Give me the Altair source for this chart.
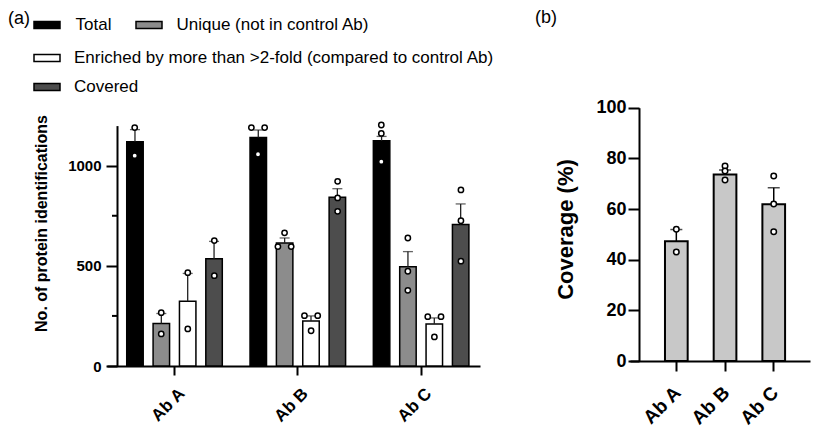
import altair as alt
import pandas as pd

FONT = "Liberation Sans"

# ---------------- data ----------------
groups = ["Ab A", "Ab B", "Ab C"]
series = ["Total", "Unique (not in control Ab)",
          "Enriched by more than >2-fold (compared to control Ab)", "Covered"]
series_colors = ["#000000", "#8c8c8c", "#ffffff", "#4d4d4d"]

mean_total = [1120, 1140, 1124]
mean_unique = [212, 614, 495]
mean_enriched = [323, 225, 210]
mean_covered = [535, 842, 706]

sem_total = [60, 38, 22]
sem_unique = [50, 25, 76]
sem_enriched = [139, 25, 30]
sem_covered = [87, 43, 103]

pts_total = [[1190, 1050], [1190, 1190, 1057], [1203, 1161, 1020]]
pts_unique = [[266, 160], [665, 596, 596], [639, 473, 378]]
pts_enriched = [[466, 185], [251, 251, 176], [246, 246, 145]]
pts_covered = [[626, 451], [922, 839, 772], [879, 725, 523]]

left_ticks = [0, 500, 1000]
left_minor_ticks = [250, 750]

cov_mean = [47.3, 73.6, 61.9]
cov_sem = [4.6, 1.8, 6.5]
cov_pts = [[52, 43], [77, 75, 71.5], [73, 62, 51]]
right_ticks = [0, 20, 40, 60, 80, 100]

panel_labels = ["(a)", "(b)"]


def spread(values):
    """side-by-side placement for replicate points with identical values"""
    out = []
    for i, v in enumerate(values):
        same = [j for j, w in enumerate(values) if w == v]
        if len(same) > 1:
            out.append("L" if same.index(i) == 0 else "R")
        else:
            out.append("C")
    return out


# ---------------- tables ----------------
means = [mean_total, mean_unique, mean_enriched, mean_covered]
sems = [sem_total, sem_unique, sem_enriched, sem_covered]
pts = [pts_total, pts_unique, pts_enriched, pts_covered]

bar_rows, pt_rows = [], []
for k, (s, m_list, e_list, p_list) in enumerate(zip(series, means, sems, pts)):
    for g, m, e, p in zip(groups, m_list, e_list, p_list):
        bar_rows.append({"group": g, "series": s, "mean": m, "hi": m + e})
        for v, j in zip(p, spread(p)):
            pt_rows.append({"group": g, "series": s, "value": v, "slot": f"{k}{j}"})
df_bars = pd.DataFrame(bar_rows)
df_pts = pd.DataFrame(pt_rows)
df_minor = pd.DataFrame({"v": left_minor_ticks})

slots = []
for k in range(len(series)):
    slots += [f"{k}L", f"{k}C", f"{k}R"]
    if k < len(series) - 1:
        slots.append(f"{k}D")

df_cov = pd.DataFrame({"group": groups, "mean": cov_mean,
                       "hi": [m + e for m, e in zip(cov_mean, cov_sem)]})
df_cov_pts = pd.DataFrame([{"group": g, "value": v}
                           for g, vs in zip(groups, cov_pts) for v in vs])

color_scale = alt.Scale(domain=series, range=series_colors)

# ---------------- left panel (cell coords = page - 8) ----------------
xl_scale = alt.Scale(domain=groups, range=[99, 472], paddingInner=0.225,
                     paddingOuter=0.125, align=0.64)
yl_scale = alt.Scale(domain=[0, 1200], range=[358, 117.6], nice=False, zero=True)
xoff = alt.XOffset("series:N", sort=series,
                   scale=alt.Scale(domain=series, paddingInner=0.375, paddingOuter=0))
xoff_pts = alt.XOffset("slot:N", sort=slots,
                       scale=alt.Scale(domain=slots, paddingInner=0.9, paddingOuter=0.202))

AX_LX = alt.Axis(orient="bottom", offset=-62, labelAngle=-45,
                 labelFont=FONT, labelFontWeight="bold", labelFontSize=17,
                 labelColor="black", domainColor="black", domainWidth=2,
                 tickColor="black", tickWidth=2, tickSize=9, labelPadding=10,
                 labelOffset=2, title=None)
AX_LY = alt.Axis(orient="left", offset=-109, values=left_ticks, format="d",
                 tickSize=11, tickWidth=2, tickColor="black",
                 domainColor="black", domainWidth=2, grid=False,
                 labelFont=FONT, labelFontWeight="bold", labelFontSize=15,
                 labelColor="black", labelPadding=5,
                 title="No. of protein identifications",
                 titleFont=FONT, titleFontWeight="bold", titleFontSize=16,
                 titleColor="black", titleAngle=-90, titleX=-76, titleY=215,
                 titleAlign="center", titleBaseline="middle")
X_L = alt.X("group:N", sort=groups, scale=xl_scale, axis=AX_LX, title=None)
Y_TITLE_L = "No. of protein identifications"

bars = alt.Chart(df_bars).mark_bar(stroke="black", strokeWidth=1.5).encode(
    x=X_L, xOffset=xoff,
    y=alt.Y("mean:Q", scale=yl_scale, axis=AX_LY, title=Y_TITLE_L),
    fill=alt.Fill("series:N", scale=color_scale, legend=None),
)
minor = alt.Chart(df_minor).mark_rule(color="black", strokeWidth=2).encode(
    x=alt.value(104), x2=alt.value(109),
    y=alt.Y("v:Q", scale=yl_scale, axis=AX_LY, title=Y_TITLE_L),
)
err = alt.Chart(df_bars).mark_rule(color="#222222", strokeWidth=1.3).encode(
    x=X_L, xOffset=xoff,
    y=alt.Y("mean:Q", scale=yl_scale, axis=AX_LY, title=Y_TITLE_L),
    y2="hi:Q",
)
cap = alt.Chart(df_bars).mark_tick(color="#222222", thickness=1.3, size=10).encode(
    x=X_L, xOffset=xoff,
    y=alt.Y("hi:Q", scale=yl_scale, axis=AX_LY, title=Y_TITLE_L),
)
points = alt.Chart(df_pts).mark_point(
    shape="circle", filled=True, fill="white", stroke="black",
    strokeWidth=1.5, size=28, opacity=1).encode(
    x=X_L, xOffset=xoff_pts,
    y=alt.Y("value:Q", scale=yl_scale, axis=AX_LY, title=Y_TITLE_L),
)

legend_layout = [  # (swatch x, row y, label x)
    (26, 17, 67.5), (128, 17, 168.5), (26, 50, 66), (26, 79, 66)]
legend_layers = []
for name, (sx, ry, lx) in zip(series, legend_layout):
    d = pd.DataFrame({"series": [name]})
    legend_layers.append(
        alt.Chart(d).mark_rect(stroke="black", strokeWidth=1.5).encode(
            x=alt.value(sx), x2=alt.value(sx + 26),
            y=alt.value(ry - 3.5), y2=alt.value(ry + 3.5),
            fill=alt.Fill("series:N", scale=color_scale, legend=None)))
    legend_layers.append(
        alt.Chart(d).mark_text(align="left", baseline="middle", font=FONT,
                               fontSize=17, color="black").encode(
            x=alt.value(lx), y=alt.value(ry), text="series:N"))

lab_a = alt.Chart(pd.DataFrame({"t": [panel_labels[0]]})).mark_text(
    align="left", baseline="middle", font=FONT, fontSize=18, color="black").encode(
    x=alt.value(0), y=alt.value(11), text="t:N")

left = alt.layer(bars, minor, err, cap, points, *legend_layers, lab_a).resolve_scale(
    xOffset="independent").properties(width=520, height=420)

# ---------------- right panel (cell coords = page - 528) ----------------
xr_scale = alt.Scale(domain=groups, range=[102, 282], paddingInner=0.534,
                     paddingOuter=0.615, align=0.584)
yr_scale = alt.Scale(domain=[0, 100], range=[353, 99.7], nice=False, zero=True)

AX_RX = alt.Axis(orient="bottom", offset=-67, labelAngle=-45,
                 labelFont=FONT, labelFontWeight="bold", labelFontSize=19,
                 labelColor="black", domainColor="black", domainWidth=2,
                 tickColor="black", tickWidth=2, tickSize=10, labelPadding=12,
                 labelOffset=-5, title=None)
AX_RY = alt.Axis(orient="left", offset=-111, values=right_ticks,
                 tickSize=11, tickWidth=2, tickColor="black",
                 domainColor="black", domainWidth=2, grid=False,
                 labelFont=FONT, labelFontWeight="bold", labelFontSize=18,
                 labelColor="black", labelPadding=2,
                 title="Coverage (%)",
                 titleFont=FONT, titleFontWeight="bold", titleFontSize=22,
                 titleColor="black", titleAngle=-90, titleX=-74, titleY=221,
                 titleAlign="center", titleBaseline="middle")
X_R = alt.X("group:N", sort=groups, scale=xr_scale, axis=AX_RX, title=None)

rbars = alt.Chart(df_cov).mark_bar(fill="#c8c8c8", stroke="black", strokeWidth=2).encode(
    x=X_R, y=alt.Y("mean:Q", scale=yr_scale, axis=AX_RY, title="Coverage (%)"))
rerr = alt.Chart(df_cov).mark_rule(color="black", strokeWidth=1.5).encode(
    x=X_R, y=alt.Y("mean:Q", scale=yr_scale, axis=AX_RY, title="Coverage (%)"),
    y2="hi:Q")
rcap = alt.Chart(df_cov).mark_tick(color="black", thickness=1.5, size=12).encode(
    x=X_R, y=alt.Y("hi:Q", scale=yr_scale, axis=AX_RY, title="Coverage (%)"))
rpts = alt.Chart(df_cov_pts).mark_point(shape="circle", filled=True, fill="white",
                                        stroke="black", strokeWidth=1.5, size=30,
                                        opacity=1).encode(
    x=X_R, y=alt.Y("value:Q", scale=yr_scale, axis=AX_RY, title="Coverage (%)"))
lab_b = alt.Chart(pd.DataFrame({"t": [panel_labels[1]]})).mark_text(
    align="left", baseline="middle", font=FONT, fontSize=18, color="black").encode(
    x=alt.value(7), y=alt.value(10), text="t:N")

right = alt.layer(rbars, rerr, rcap, rpts, lab_b).properties(width=285, height=420)

chart = alt.hconcat(left, right, spacing=0, bounds="flush").properties(
    padding=0
).configure_view(stroke=None)

chart.save("out.html", embed_options={"renderer": "svg", "actions": False})
